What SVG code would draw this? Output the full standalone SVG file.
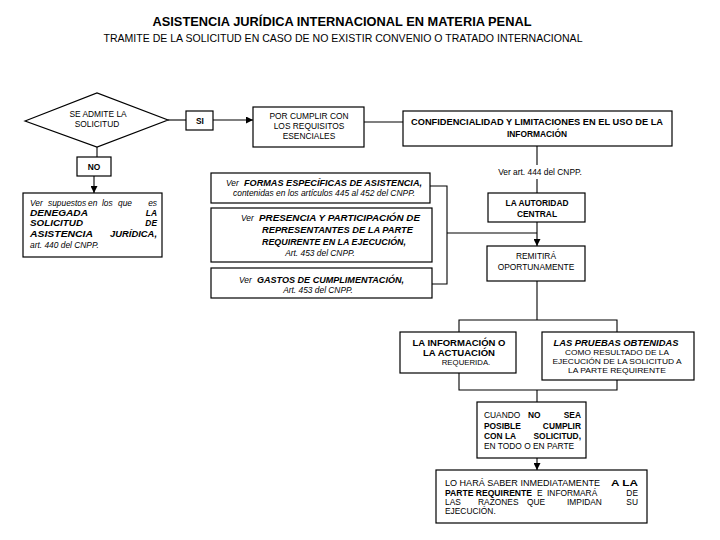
<svg xmlns="http://www.w3.org/2000/svg" width="720" height="540" viewBox="0 0 720 540">
<style>
.bx{fill:#fff;stroke:#000;stroke-width:1.2}
.ln{fill:none;stroke:#000;stroke-width:1.1}
text{font-family:"Liberation Sans",Arial,Helvetica,sans-serif;font-size:8.4px;fill:#000}
.c{text-anchor:middle}
.e{text-anchor:end}
.bd{font-weight:bold}
.bi{font-weight:bold;font-style:italic}
.i{font-style:italic}
.s{font-size:7.8px}
</style>
<defs>
<marker id="ar" viewBox="0 0 10 10" refX="10" refY="5" markerWidth="7" markerHeight="7" markerUnits="userSpaceOnUse" orient="auto">
<path d="M0,0 L10,5 L0,10 z" fill="#000"/>
</marker>
</defs>
<rect width="720" height="540" fill="#fff"/>
<g id="title">
<text x="342" y="26" class="c bd" style="font-size:13px" textLength="379" lengthAdjust="spacingAndGlyphs">ASISTENCIA JURÍDICA INTERNACIONAL EN MATERIA PENAL</text>
<text x="343" y="42" class="c" style="font-size:10.5px" textLength="479" lengthAdjust="spacingAndGlyphs">TRAMITE DE LA SOLICITUD EN CASO DE NO EXISTIR CONVENIO O TRATADO INTERNACIONAL</text>
</g>
<g id="connectors">
<line class="ln" x1="168" y1="120" x2="186" y2="120"/>
<line class="ln" x1="213" y1="120" x2="253" y2="120" marker-end="url(#ar)"/>
<line class="ln" x1="364" y1="122" x2="403" y2="122"/>
<line class="ln" x1="537" y1="146" x2="537" y2="165"/>
<line class="ln" x1="537" y1="179" x2="537" y2="193"/>
<line class="ln" x1="537" y1="222" x2="537" y2="246" marker-end="url(#ar)"/>
<polyline class="ln" points="430,186 447,186 447,284 432,284"/>
<line class="ln" x1="447" y1="233" x2="537" y2="233"/>
<line class="ln" x1="537" y1="281" x2="537" y2="320"/>
<polyline class="ln" points="459,332 459,320 617,320 617,332"/>
<polyline class="ln" points="459,373 459,390 617,390 617,380"/>
<line class="ln" x1="537" y1="390" x2="537" y2="402"/>
<line class="ln" x1="537" y1="458" x2="537" y2="470" marker-end="url(#ar)"/>
<line class="ln" x1="97" y1="147" x2="97" y2="157"/>
<line class="ln" x1="94" y1="176" x2="94" y2="193" marker-end="url(#ar)"/>
</g>
<g id="decision">
<polygon class="bx" points="25,121 97,93 168,120 97,147"/>
<text x="98" y="117" class="c">SE ADMITE LA</text>
<text x="97" y="127" class="c">SOLICITUD</text>
</g>
<g id="si">
<rect class="bx" x="186" y="111" width="27" height="19"/>
<text x="200" y="124" class="c bd">SI</text>
</g>
<g id="no">
<rect class="bx" x="77" y="157" width="34" height="19"/>
<text x="94" y="170" class="c bd">NO</text>
</g>
<g id="denegada">
<rect class="bx" x="23" y="193" width="139" height="64"/>
<text x="30" y="206" class="i">Ver</text>
<text x="48" y="206" class="i">supuestos</text>
<text x="88" y="206" class="i">en</text>
<text x="102" y="206" class="i">los</text>
<text x="118" y="206" class="i">que</text>
<text x="157" y="206" class="i e">es</text>
<text x="30" y="216" class="bi" textLength="58" lengthAdjust="spacingAndGlyphs">DENEGADA</text>
<text x="157" y="216" class="bi e">LA</text>
<text x="30" y="226" class="bi" textLength="53" lengthAdjust="spacingAndGlyphs">SOLICITUD</text>
<text x="157" y="226" class="bi e">DE</text>
<text x="30" y="237" class="bi" textLength="63" lengthAdjust="spacingAndGlyphs">ASISTENCIA</text>
<text x="110" y="237" class="bi" textLength="47" lengthAdjust="spacingAndGlyphs">JURÍDICA,</text>
<text x="30" y="248" class="i">art. 440 del CNPP.</text>
</g>
<g id="requisitos">
<rect class="bx" x="253" y="107" width="111" height="40"/>
<text x="309" y="119" class="c">POR CUMPLIR CON</text>
<text x="309" y="129" class="c">LOS REQUISITOS</text>
<text x="309" y="139" class="c">ESENCIALES</text>
</g>
<g id="confidencialidad">
<rect class="bx" x="403" y="111" width="269" height="35"/>
<text x="537" y="125" class="c bd" textLength="252" lengthAdjust="spacingAndGlyphs">CONFIDENCIALIDAD Y LIMITACIONES EN EL USO DE LA</text>
<text x="537" y="137" class="c bd">INFORMACIÓN</text>
</g>
<g id="art444">
<text x="540" y="175" class="c">Ver art. 444 del CNPP.</text>
</g>
<g id="autoridad">
<rect class="bx" x="488" y="193" width="97" height="29"/>
<text x="537" y="206" class="c bd">LA AUTORIDAD</text>
<text x="537" y="217" class="c bd">CENTRAL</text>
</g>
<g id="remitira">
<rect class="bx" x="487" y="246" width="98" height="35"/>
<text x="536" y="259" class="c">REMITIRÁ</text>
<text x="536" y="270" class="c">OPORTUNAMENTE</text>
</g>
<g id="formas">
<rect class="bx" x="211" y="173" width="219" height="30"/>
<text x="226" y="186" class="i">Ver</text>
<text x="244" y="186" class="bi" textLength="178" lengthAdjust="spacingAndGlyphs">FORMAS ESPECÍFICAS DE ASISTENCIA,</text>
<text x="233" y="196" class="i" textLength="182" lengthAdjust="spacingAndGlyphs">contenidas en los artículos 445 al 452 del CNPP.</text>
</g>
<g id="presencia">
<rect class="bx" x="211" y="208" width="221" height="54"/>
<text x="241" y="221" class="i">Ver</text>
<text x="259" y="221" class="bi" textLength="161" lengthAdjust="spacingAndGlyphs">PRESENCIA Y PARTICIPACIÓN DE</text>
<text x="262" y="233" class="bi" textLength="151" lengthAdjust="spacingAndGlyphs">REPRESENTANTES DE LA PARTE</text>
<text x="262" y="245" class="bi" textLength="144" lengthAdjust="spacingAndGlyphs">REQUIRENTE EN LA EJECUCIÓN,</text>
<text x="320" y="256" class="i c">Art. 453 del CNPP.</text>
</g>
<g id="gastos">
<rect class="bx" x="211" y="268" width="221" height="30"/>
<text x="239" y="283" class="i">Ver</text>
<text x="257" y="283" class="bi" textLength="147" lengthAdjust="spacingAndGlyphs">GASTOS DE CUMPLIMENTACIÓN,</text>
<text x="318" y="293" class="i c">Art. 453 del CNPP.</text>
</g>
<g id="informacion">
<rect class="bx" x="400" y="332" width="116" height="41"/>
<text x="459" y="346" class="c bd" textLength="93" lengthAdjust="spacingAndGlyphs">LA INFORMACIÓN O</text>
<text x="459" y="356" class="c bd" textLength="72" lengthAdjust="spacingAndGlyphs">LA ACTUACIÓN</text>
<text x="466" y="365" class="c s">REQUERIDA.</text>
</g>
<g id="pruebas">
<rect class="bx" x="542" y="332" width="152" height="48"/>
<text x="616" y="346" class="c bi" textLength="125" lengthAdjust="spacingAndGlyphs">LAS PRUEBAS OBTENIDAS</text>
<text x="617" y="355" class="c s" textLength="104" lengthAdjust="spacingAndGlyphs">COMO RESULTADO DE LA</text>
<text x="617" y="364" class="c s" textLength="129" lengthAdjust="spacingAndGlyphs">EJECUCIÓN DE LA SOLICITUD A</text>
<text x="617" y="373" class="c s" textLength="98" lengthAdjust="spacingAndGlyphs">LA PARTE REQUIRENTE</text>
</g>
<g id="cuando">
<rect class="bx" x="477" y="402" width="109" height="56"/>
<text x="484" y="418">CUANDO</text>
<text x="528" y="418" class="bd">NO</text>
<text x="581" y="418" class="bd e">SEA</text>
<text x="484" y="429" class="bd">POSIBLE</text>
<text x="581" y="429" class="bd e">CUMPLIR</text>
<text x="484" y="439" class="bd">CON</text>
<text x="505" y="439" class="bd">LA</text>
<text x="581" y="439" class="bd e">SOLICITUD,</text>
<text x="484" y="449">EN TODO O EN PARTE</text>
</g>
<g id="lohara">
<rect class="bx" x="436" y="470" width="211" height="53"/>
<text x="445" y="486" textLength="155" lengthAdjust="spacingAndGlyphs">LO HARÁ SABER INMEDIATAMENTE</text>
<text x="611" y="486" class="bd" textLength="27" lengthAdjust="spacingAndGlyphs">A LA</text>
<text x="445" y="496" class="bd" textLength="87" lengthAdjust="spacingAndGlyphs">PARTE REQUIRENTE</text>
<text x="537" y="496">E</text>
<text x="547" y="496">INFORMARÁ</text>
<text x="638" y="496" class="e">DE</text>
<text x="445" y="505">LAS</text>
<text x="478" y="505">RAZONES</text>
<text x="527" y="505">QUE</text>
<text x="567" y="505">IMPIDAN</text>
<text x="638" y="505" class="e">SU</text>
<text x="445" y="514">EJECUCIÓN.</text>
</g>
</svg>
